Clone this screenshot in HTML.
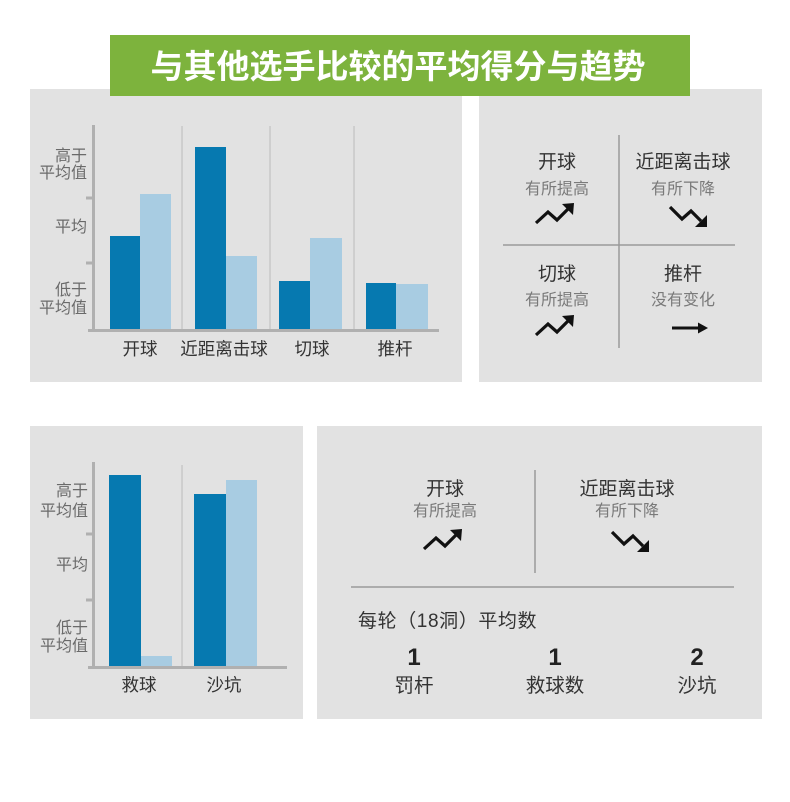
<!DOCTYPE html>
<html><head><meta charset="utf-8"><style>
html,body{margin:0;padding:0;background:#fff;}
svg{display:block;}
text{font-family:"Liberation Sans","Noto Sans CJK SC",sans-serif;}
</style></head><body>
<svg width="790" height="802" viewBox="0 0 790 802" xmlns="http://www.w3.org/2000/svg">
<defs>
<g id="up"><path d="M536,223 L548,212 L557,220 L568,209" fill="none" stroke="#111" stroke-width="3.2" stroke-linejoin="miter"/><polygon points="574,203 562,204 573,215" fill="#111"/></g>
<g id="down"><path d="M670,207 L682,219 L691,211 L701,221" fill="none" stroke="#111" stroke-width="3.2"/><polygon points="707,227 707,215 695,227" fill="#111"/></g>
</defs>
<!-- panels -->
<rect x="30" y="89" width="432" height="293" fill="#e2e2e2"/>
<rect x="479" y="89" width="283" height="293" fill="#e2e2e2"/>
<rect x="30" y="426" width="273" height="293" fill="#e2e2e2"/>
<rect x="317" y="426" width="445" height="293" fill="#e2e2e2"/>
<!-- title -->
<rect x="110" y="35" width="580" height="61" fill="#7db33d"/>
<text x="398" y="78" font-size="33" font-weight="bold" fill="#fff" text-anchor="middle">与其他选手比较的平均得分与趋势</text>

<!-- chart 1 -->
<g stroke="#c2c2c2" stroke-width="1.2">
<line x1="182" y1="126" x2="182" y2="330"/>
<line x1="270" y1="126" x2="270" y2="330"/>
<line x1="354" y1="126" x2="354" y2="330"/>
</g>
<rect x="110" y="236" width="30" height="93" fill="#0679b0"/>
<rect x="140" y="194" width="31" height="135" fill="#a8cce2"/>
<rect x="195" y="147" width="31" height="182" fill="#0679b0"/>
<rect x="226" y="256" width="31" height="73" fill="#a8cce2"/>
<rect x="279" y="281" width="31" height="48" fill="#0679b0"/>
<rect x="310" y="238" width="32" height="91" fill="#a8cce2"/>
<rect x="366" y="283" width="30" height="46" fill="#0679b0"/>
<rect x="396" y="284" width="32" height="45" fill="#a8cce2"/>
<g stroke="#b0b0b0" stroke-width="3">
<line x1="93.5" y1="125" x2="93.5" y2="331"/>
<line x1="88" y1="330.5" x2="439" y2="330.5"/>
<line x1="86" y1="198" x2="93" y2="198"/>
<line x1="86" y1="263" x2="93" y2="263"/>
</g>
<g font-size="16" fill="#6a6a6a" text-anchor="end">
<text x="87" y="161">高于</text>
<text x="87" y="178">平均值</text>
<text x="87" y="232">平均</text>
<text x="87" y="295">低于</text>
<text x="87" y="313">平均值</text>
</g>
<g font-size="17.5" fill="#333" text-anchor="middle">
<text x="140" y="355">开球</text>
<text x="224" y="355">近距离击球</text>
<text x="312" y="355">切球</text>
<text x="395" y="355">推杆</text>
</g>

<!-- panel 2 -->
<g stroke="#9a9a9a" stroke-width="1.5">
<line x1="619" y1="135" x2="619" y2="348"/>
<line x1="503" y1="245" x2="735" y2="245"/>
</g>
<g font-size="19" fill="#333" text-anchor="middle">
<text x="557" y="168">开球</text>
<text x="683" y="168">近距离击球</text>
<text x="557" y="280">切球</text>
<text x="683" y="280">推杆</text>
</g>
<g font-size="16" fill="#7a7a7a" text-anchor="middle">
<text x="557" y="194">有所提高</text>
<text x="683" y="194">有所下降</text>
<text x="557" y="305">有所提高</text>
<text x="683" y="305">没有变化</text>
</g>
<use href="#up"/>
<use href="#down"/>
<use href="#up" transform="translate(0,112)"/>
<line x1="672" y1="328" x2="700" y2="328" stroke="#111" stroke-width="3"/>
<polygon points="708,328 698,322.5 698,333.5" fill="#111"/>

<!-- chart 3 -->
<line x1="182" y1="465" x2="182" y2="667" stroke="#c2c2c2" stroke-width="1.2"/>
<rect x="109" y="475" width="32" height="191" fill="#0679b0"/>
<rect x="141" y="656" width="31" height="10" fill="#a8cce2"/>
<rect x="194" y="494" width="32" height="172" fill="#0679b0"/>
<rect x="226" y="480" width="31" height="186" fill="#a8cce2"/>
<g stroke="#b0b0b0" stroke-width="3">
<line x1="93.5" y1="462" x2="93.5" y2="668"/>
<line x1="88" y1="667.5" x2="287" y2="667.5"/>
<line x1="86" y1="534" x2="93" y2="534"/>
<line x1="86" y1="600" x2="93" y2="600"/>
</g>
<g font-size="16" fill="#6a6a6a" text-anchor="end">
<text x="88" y="496">高于</text>
<text x="88" y="516">平均值</text>
<text x="88" y="570">平均</text>
<text x="88" y="633">低于</text>
<text x="88" y="651">平均值</text>
</g>
<g font-size="17.5" fill="#333" text-anchor="middle">
<text x="139" y="691">救球</text>
<text x="224" y="691">沙坑</text>
</g>

<!-- panel 4 -->
<g stroke="#9a9a9a" stroke-width="1.5">
<line x1="535" y1="470" x2="535" y2="573"/>
<line x1="351" y1="587" x2="734" y2="587"/>
</g>
<g font-size="19" fill="#333" text-anchor="middle">
<text x="445" y="495">开球</text>
<text x="627" y="495">近距离击球</text>
</g>
<g font-size="16" fill="#7a7a7a" text-anchor="middle">
<text x="445" y="516">有所提高</text>
<text x="627" y="516">有所下降</text>
</g>
<use href="#up" transform="translate(-112,326)"/>
<use href="#down" transform="translate(-58,325)"/>
<text x="358" y="627" font-size="19" letter-spacing="0.6" fill="#333">每轮（18洞）平均数</text>
<g font-size="24" font-weight="bold" fill="#222" text-anchor="middle">
<text x="414" y="665">1</text>
<text x="555" y="665">1</text>
<text x="697" y="665">2</text>
</g>
<g font-size="19.5" fill="#333" text-anchor="middle">
<text x="414" y="692">罚杆</text>
<text x="555" y="692">救球数</text>
<text x="697" y="692">沙坑</text>
</g>
</svg>
</body></html>
